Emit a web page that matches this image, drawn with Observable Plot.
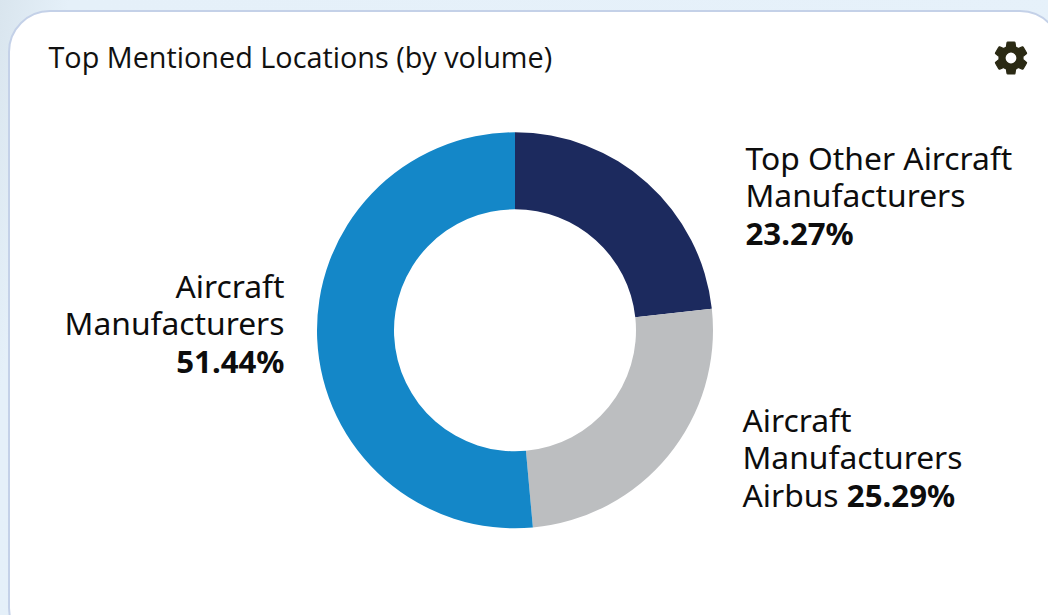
<!DOCTYPE html>
<html>
<head>
<meta charset="utf-8">
<script src="https://cdn.jsdelivr.net/npm/d3@7"></script>
<script src="https://cdn.jsdelivr.net/npm/@observablehq/plot@0.6"></script>
<style>
  html, body { margin: 0; padding: 0; width: 1048px; height: 615px; overflow: hidden;
    background: linear-gradient(100deg, #d9e5ee 0%, #e5f0f9 6%, #e6f1fa 100%); }
  #card { position: absolute; left: 8px; top: 10px; width: 1054px; height: 640px; box-sizing: border-box;
    background: #fff; border: 2.5px solid #c4d1e8; border-radius: 42px; }
  #title { position: absolute; left: 48.5px; top: 38px; margin: 0; font: 400 28.8px/38px "Open Sans", sans-serif;
    color: #111; white-space: nowrap; }
  #gear { position: absolute; left: 991px; top: 38px; width: 40px; height: 40px; fill: #2b2a14; stroke: #2b2a14; stroke-width: 0.7; }
  #chart { position: absolute; left: 0; top: 0; }
</style>
</head>
<body>
<div id="card"></div>
<h2 id="title">Top Mentioned Locations (by volume)</h2>
<svg id="gear" viewBox="0 0 24 24"><path d="M19.14 12.94c.04-.3.06-.61.06-.94 0-.32-.02-.64-.07-.94l2.03-1.58a.49.49 0 0 0 .12-.61l-1.92-3.32a.488.488 0 0 0-.59-.22l-2.39.96c-.5-.38-1.03-.7-1.62-.94l-.36-2.54a.484.484 0 0 0-.48-.41h-3.84c-.24 0-.43.17-.47.41l-.36 2.54c-.59.24-1.13.57-1.62.94l-2.39-.96c-.22-.08-.47 0-.59.22L2.74 8.87c-.12.21-.08.47.12.61l2.03 1.58c-.05.3-.09.63-.09.94s.02.64.07.94l-2.03 1.58a.49.49 0 0 0-.12.61l1.92 3.32c.12.22.37.29.59.22l2.39-.96c.5.38 1.03.7 1.62.94l.36 2.54c.05.24.24.41.48.41h3.84c.24 0 .44-.17.47-.41l.36-2.54c.59-.24 1.13-.56 1.62-.94l2.39.96c.22.08.47 0 .59-.22l1.92-3.32c.12-.22.07-.47-.12-.61l-2.01-1.58zM12 15.6c-1.98 0-3.6-1.62-3.6-3.6s1.62-3.6 3.6-3.6 3.6 1.62 3.6 3.6-1.62 3.6-3.6 3.6z"/></svg>
<div id="chart"></div>
<script>
// Share of mentions per group, clockwise from twelve o'clock
const names = ["Top Other Aircraft Manufacturers", "Aircraft Manufacturers Airbus", "Aircraft Manufacturers"];
const shares = [23.27, 25.29, 51.44];
const colors = ["#1c2a5e", "#bcbec0", "#1487c8"];
const labelLines = [
  ["Top Other Aircraft", "Manufacturers"],
  ["Aircraft", "Manufacturers", "Airbus"],
  ["Aircraft", "Manufacturers"]
];

const W = 1048, H = 615;
const cx = 515, cy = 330.3, outer = 198, inner = 121;

// Function mark: ring segments coloured through the plot's colour scale
const ring = (index, scales) => {
  const pie = d3.pie().sort(null).value(i => shares[i])(d3.range(names.length));
  const arc = d3.arc().innerRadius(inner).outerRadius(outer);
  const g = d3.create("svg:g").attr("transform", `translate(${cx},${cy})`);
  g.selectAll("path").data(pie).join("path")
    .attr("d", arc)
    .attr("fill", d => scales.color(names[d.data]));
  return g.node();
};

// One multi-line text per slice; dx and dy place the baseline of its last line.
// The value shares the last line when the name has three lines.
const label = (i, x, y, anchor) => {
  const lines = labelLines[i];
  const value = `${shares[i].toFixed(2)}%`;
  const body = lines.length > 2
    ? [...lines.slice(0, -1), `${lines[lines.length - 1]} ${value}`]
    : [...lines, value];
  return Plot.text([body.join("\n")], {
    frameAnchor: "top-left", dx: x, dy: y, textAnchor: anchor, lineAnchor: "bottom",
    lineHeight: 1.177, fontWeight: 400, fontSize: 31.8, fill: "#0d0d0d"
  });
};

const plot = Plot.plot({
  width: W, height: H, margin: 0,
  style: {background: "transparent", fontFamily: "'Noto Sans', sans-serif"},
  color: {domain: names, range: colors},
  marks: [
    ring,
    label(0, 745, 244, "start"),
    label(1, 742, 506, "start"),
    label(2, 284, 372, "end")
  ]
});

// Set the percentage at the end of each label in bold
d3.select(plot).selectAll("text tspan:last-child").each(function() {
  const line = this.textContent;
  const cut = line.lastIndexOf(" ") + 1;
  const el = d3.select(this).text(line.slice(0, cut));
  el.append("tspan").attr("font-weight", 700).attr("font-size", 31.2).text(line.slice(cut));
});
document.getElementById("chart").append(plot);
</script>
</body>
</html>
